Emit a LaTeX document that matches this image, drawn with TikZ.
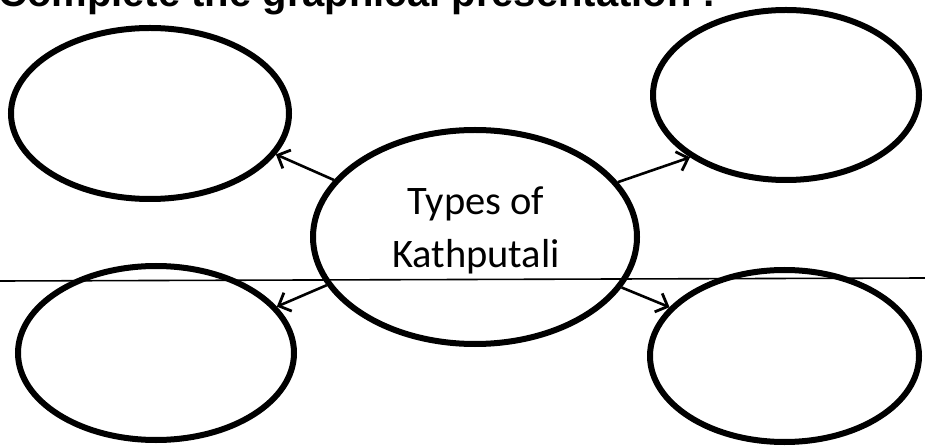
\documentclass[tikz,border=0pt]{standalone}
\usepackage{fontspec}
\setmainfont{Carlito}
\newfontfamily\titlefont{Liberation Sans}
\usetikzlibrary{shapes.geometric,arrows.meta}
\tikzset{
  bubble/.style={draw=black, line width=6pt, ellipse, inner sep=0pt},
  arr/.style={draw=black, line width=2.6pt, -{Straight Barb[length=10pt,width=20pt,line width=2.8pt]}},
  hline/.style={draw=black, line width=1.6pt},
  lbl/.style={anchor=base, inner sep=0pt, font=\fontsize{40.5}{48}\selectfont},
  ttl/.style={anchor=base west, inner sep=0pt, font=\titlefont\bfseries\fontsize{40}{48}\selectfont}
}
\begin{document}
\begin{tikzpicture}[x=1pt,y=1pt]
\clip (0,0) rectangle (925,447);
\fill[white] (0,0) rectangle (925,447);
\node[ttl] (title) at (-2,440) {Complete the graphical presentation :-};
\node[bubble, minimum width=278pt, minimum height=171pt] (TL) at (150,333.5) {};
\node[bubble, minimum width=266pt, minimum height=170pt] (TR) at (786,352) {};
\node[bubble, minimum width=276pt, minimum height=174pt] (BL) at (156,94) {};
\node[bubble, minimum width=269pt, minimum height=172pt] (BR) at (784.5,91) {};
\node[bubble, minimum width=324pt, minimum height=214pt] (C) at (475,210) {};
\node[lbl] (t1) at (476,232) {Types of};
\node[lbl] (t2) at (476,179) {Kathputali};
\draw[arr] (C.158) -- (TL.-18);
\draw[arr] (C.21.5) -- (TR.-147.6);
\draw[arr] (C.198.4) -- (BL.21.6);
\draw[arr] (C.-19.4) -- (BR.157.8);
\coordinate (hl1) at (0,166);
\coordinate (hl2) at (925,169);
\draw[hline] (hl1) -- (hl2);
\end{tikzpicture}
\end{document}
